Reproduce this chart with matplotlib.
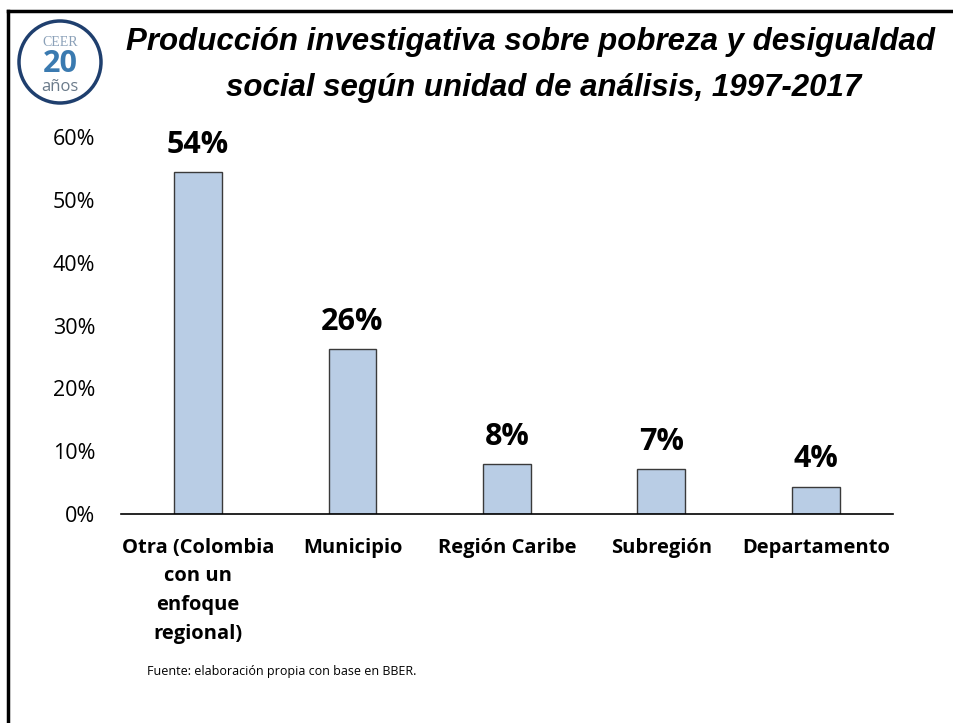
import matplotlib
matplotlib.use("Agg")
import matplotlib.pyplot as plt
from matplotlib.lines import Line2D
from matplotlib.patches import Circle

plt.rcParams['font.family'] = ['Open Sans', 'DejaVu Sans']

categorias = ['Otra (Colombia\ncon un\nenfoque\nregional)', 'Municipio',
              'Región Caribe', 'Subregión', 'Departamento']
valores = [54.4, 26.2, 7.9, 7.1, 4.3]
etiquetas = ['54%', '26%', '8%', '7%', '4%']
ticks_y = [0, 10, 20, 30, 40, 50, 60]

fig = plt.figure(figsize=(9.54, 7.23), dpi=100)
ax = fig.add_axes([0.1268, 0.289, 0.8092, 0.5215])

x = range(len(categorias))
ax.bar(x, valores, width=0.31, color='#B9CDE5', edgecolor='#3a3a3a', linewidth=1)
for i, v in enumerate(valores):
    ax.text(i, v + 2.0, etiquetas[i], ha='center', va='bottom',
            fontsize=22, fontweight='bold')

ax.set_xlim(-0.5, 4.5)
ax.set_ylim(0, 60)
ax.set_yticks(ticks_y)
ax.set_yticklabels([f'{t}%' for t in ticks_y], fontsize=15.5)
ax.set_xticks(list(x))
ax.set_xticklabels(categorias, fontsize=14.5, fontweight='bold', linespacing=1.58, va='top')
ax.tick_params(axis='y', length=0, pad=18.5)
ax.tick_params(axis='x', length=0, pad=17)
for s in ['top', 'right', 'left']:
    ax.spines[s].set_visible(False)
ax.spines['bottom'].set_linewidth(1.2)

# titulo
for txt, xc, yb in [('Producción investigativa sobre pobreza y desigualdad', 530, 50),
                    ('social según unidad de análisis, 1997-2017', 544, 96)]:
    fig.text(xc / 954, 1 - yb / 723, txt, ha='center', va='baseline', fontsize=22.5,
             fontweight='bold', style='italic', family=['Liberation Sans', 'DejaVu Sans'])

fig.text(147 / 954, 1 - 672 / 723, 'Fuente: elaboración propia con base en BBER.',
         ha='left', va='center', fontsize=9)

# marco
fig.add_artist(Line2D([8 / 954, 1], [1 - 11 / 723, 1 - 11 / 723], color='black', linewidth=2.5))
fig.add_artist(Line2D([8 / 954, 8 / 954], [0, 1 - 11 / 723], color='black', linewidth=2.5))

# logo
cx = 60 / 954
fig.add_artist(Circle((60, 723 - 62), 41, transform=None, facecolor='white',
                      edgecolor='#1f3f6e', linewidth=2.5))
fig.text(cx, 1 - 42 / 723, 'CEER', ha='center', va='center', fontsize=10,
         color='#8aa0b8', family='Liberation Serif')
fig.text(cx, 1 - 64 / 723, '20', ha='center', va='center', fontsize=22,
         fontweight='bold', color='#3a7ab0')
fig.text(cx, 1 - 87 / 723, 'años', ha='center', va='center', fontsize=12, color='#6a7a8a')

fig.savefig('out.png', dpi=100)
